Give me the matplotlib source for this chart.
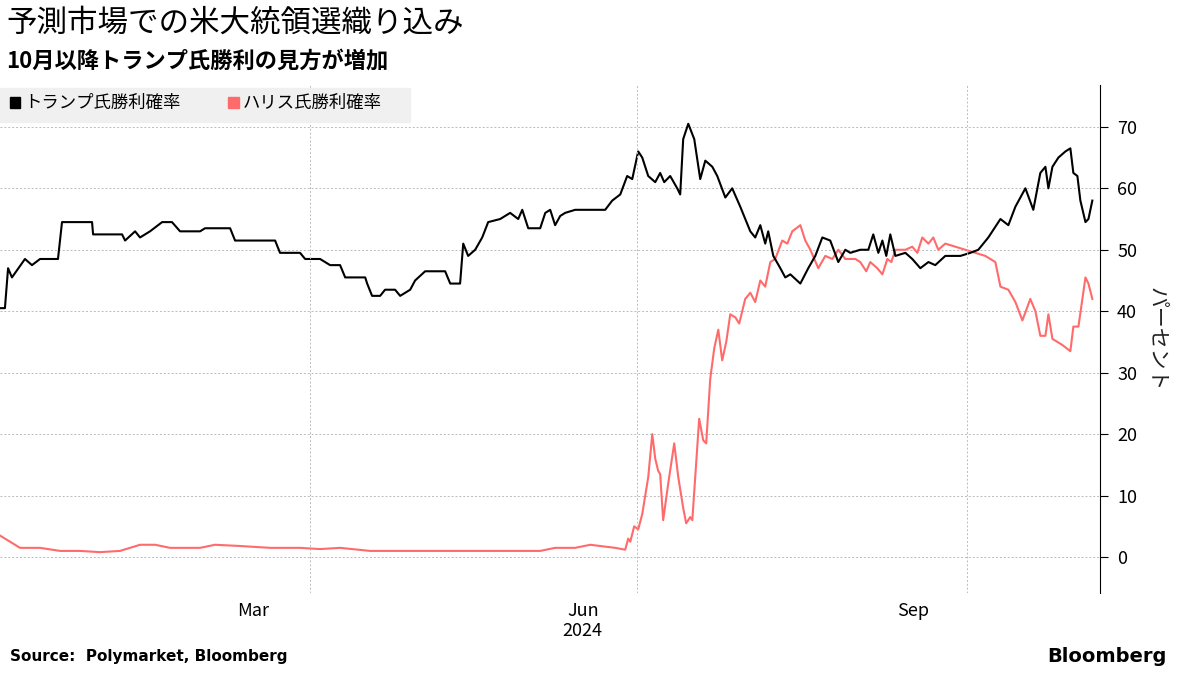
import matplotlib
matplotlib.use("Agg")
import matplotlib.pyplot as plt
import numpy as np
import datetime as dt

plt.rcParams['font.family'] = ['Noto Sans CJK JP', 'DejaVu Sans']

start = np.datetime64('2024-01-05T12')
# pixel-read positions (x px from left edge, ~3.585 px per day) and values (%)
trump_x = [0,5,8,12,25,32,40,58,62,92,93,122,125,135,140,150,162,172,180,200,205,230,235,275,280,300,305,320,330,340,345,365,367,372,380,385,395,400,410,415,425,445,450,460,463,468,475,482,488,500,510,518,522,528,540,545,550,555,560,565,575,605,612,620,627,632,638,642,648,655,660,664,670,677,680,683,688,694,700,705,712,717,725,732,740,750,755,760,765,768,773,780,785,790,800,808,815,822,830,838,845,850,860,868,873,878,882,886,890,895,905,912,920,928,935,945,960,970,978,988,1000,1008,1015,1025,1033,1040,1045,1048,1052,1058,1065,1070,1073,1077,1080,1085,1088,1092]
trump_v = [40.5,40.5,47,45.5,48.5,47.5,48.5,48.5,54.5,54.5,52.5,52.5,51.5,53,52,53,54.5,54.5,53,53,53.5,53.5,51.5,51.5,49.5,49.5,48.5,48.5,47.5,47.5,45.5,45.5,44.5,42.5,42.5,43.5,43.5,42.5,43.5,45,46.5,46.5,44.5,44.5,51,49,50,52,54.5,55,56,55,56.5,53.5,53.5,56,56.5,54,55.5,56,56.5,56.5,58,59,62,61.5,66,65,62,61,62.5,61,62,60,59,68,70.5,68,61.5,64.5,63.5,62,58.5,60,57,53,52,54,51,53,49,47,45.5,46,44.5,47,49,52,51.5,48,50,49.5,50,50,52.5,49.5,51.5,49,52.5,49,49.5,48.5,47,48,47.5,49,49,49.5,50,52,55,54,57,60,56.5,62.5,63.5,60,63.5,65,66,66.5,62.5,62,58,54.5,55,58]
harris_x = [0,10,20,40,60,80,100,120,130,140,155,170,200,215,240,270,300,320,340,370,400,460,500,540,555,575,590,615,625,628,630,634,638,642,645,648,652,655,658,660,663,668,674,678,683,686,690,692,699,703,706,710,714,718,722,726,730,735,739,745,750,755,760,765,770,775,782,787,792,800,805,810,818,825,832,838,845,855,860,866,870,877,882,887,891,895,905,912,917,922,928,933,938,945,955,965,975,985,995,1000,1008,1015,1022,1030,1035,1040,1045,1048,1052,1062,1070,1073,1078,1085,1088,1092]
harris_v = [3.5,2.5,1.5,1.5,1,1,0.8,1,1.5,2,2,1.5,1.5,2,1.8,1.5,1.5,1.3,1.5,1,1,1,1,1,1.5,1.5,2,1.5,1.2,3,2.5,5,4.5,7,10,13,20,16,14,13.5,6,12,18.5,13,8,5.5,6.5,6,22.5,19,18.5,29,34,37,32,35,39.5,39,38,42,43,41.5,45,44,48,48.5,51.5,51,53,54,51.5,50,47,49,48.5,50,48.5,48.5,48,46.5,48,47,46,48.5,48,50,50,50.5,49.5,52,51,52,50,51,50.5,50,49.5,49,48,44,43.5,41.5,38.5,42,40,36,36,39.5,35.5,34.5,33.5,37.5,37.5,45.5,44.5,42]

def todates(xs):
    return [start + np.timedelta64(int(round(x / 3.585 * 24)), 'h') for x in xs]

fig = plt.figure(figsize=(12, 6.75), dpi=100)
ax = fig.add_axes([0.0, 0.121, 0.917, 0.753])
ax.plot(todates(harris_x), harris_v, color='#ff6b6b', lw=1.5)
ax.plot(todates(trump_x), trump_v, color='black', lw=1.5)

ax.set_xlim(start, start + np.timedelta64(int(1100 / 3.585 * 24), 'h'))
ax.set_ylim(-5.9, 76.8)
ax.yaxis.tick_right()
ax.set_yticks(range(0, 71, 10))
ax.tick_params(axis='y', length=6, labelsize=13, pad=6)
ax.grid(axis='y', color='#bbbbbb', ls=(0, (2, 2)), lw=0.7)
for d in ['2024-04-01', '2024-07-01', '2024-10-01']:
    ax.axvline(np.datetime64(d), color='#bbbbbb', ls=(0, (2, 2)), lw=0.7)
ax.set_xticks([np.datetime64('2024-03-16'), np.datetime64('2024-06-16'), np.datetime64('2024-09-16')])
ax.set_xticklabels(['Mar', 'Jun\n2024', 'Sep'], fontsize=13, va='top')
ax.tick_params(axis='x', length=0, pad=6)
for s in ['top', 'left', 'bottom']:
    ax.spines[s].set_visible(False)
ax.yaxis.set_label_position('right')
ax.set_ylabel('パーセント', rotation=-90, fontsize=15, labelpad=22, color='#222222')

fig.text(0.005, 0.965, '予測市場での米大統領選織り込み', fontsize=22, va='center')
fig.text(0.005, 0.91, '10月以降トランプ氏勝利の見方が増加', fontsize=16, fontweight='bold', va='center')
fig.patches.append(plt.Rectangle((0.0, 0.82), 0.342, 0.05, transform=fig.transFigure, color='#f0f0f0', zorder=0))
fig.patches.append(plt.Rectangle((0.008, 0.84), 0.009, 0.016, transform=fig.transFigure, color='black'))
fig.text(0.02, 0.848, 'トランプ氏勝利確率', fontsize=12.5, va='center')
fig.patches.append(plt.Rectangle((0.19, 0.84), 0.009, 0.016, transform=fig.transFigure, color='#ff6b6b'))
fig.text(0.202, 0.848, 'ハリス氏勝利確率', fontsize=12.5, va='center')
fig.text(0.008, 0.02, 'Source:  Polymarket, Bloomberg', fontsize=11, fontweight='bold', family='DejaVu Sans')
fig.text(0.972, 0.02, 'Bloomberg', fontsize=14, fontweight='bold', ha='right', family='DejaVu Sans')
fig.savefig('out.png', dpi=100)
